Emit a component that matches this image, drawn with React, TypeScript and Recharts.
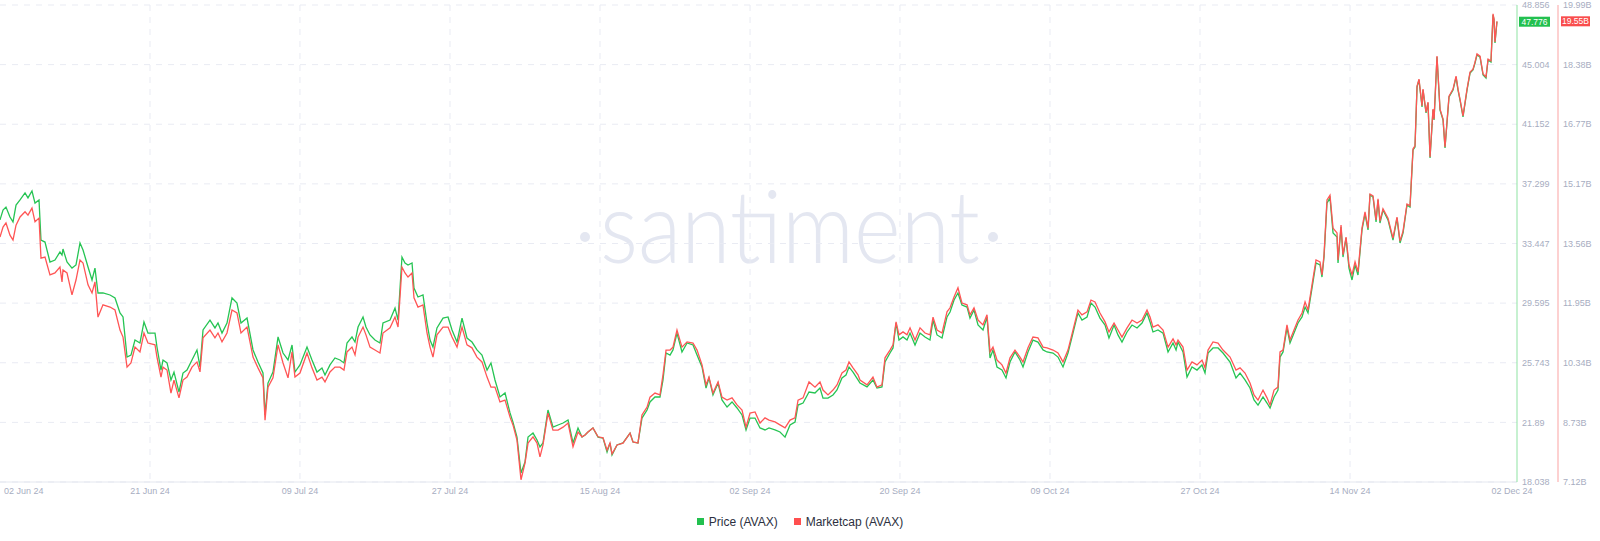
import React from "react";
import { LineChart, Line, XAxis, YAxis, CartesianGrid, ReferenceLine } from "recharts";

// days since 02 Jun 2024 00:00
const days = [
  0, 0.37, 0.73, 1.22, 1.59, 1.96, 2.45, 3.06, 3.42, 3.91,
  4.28, 4.77, 5.01, 5.5, 6.11, 6.72, 7.33, 7.58, 7.7, 8.19,
  8.8, 9.29, 9.78, 10.15, 10.76, 11.25, 11.61, 11.98, 12.59, 13.45,
  14.06, 14.67, 15.04, 15.53, 16.01, 16.5, 17.11, 17.6, 18.09, 18.95,
  19.19, 19.68, 19.93, 20.42, 20.9, 21.27, 21.88, 22.37, 22.86, 23.47,
  24.08, 24.45, 24.82, 25.67, 26.28, 26.65, 27.14, 27.75, 28.36, 28.97,
  29.46, 30.2, 30.93, 31.54, 32.15, 32.4, 32.76, 33.37, 33.99, 34.6,
  35.21, 35.7, 36.06, 36.67, 37.53, 38.14, 38.75, 39.36, 39.73, 40.34,
  40.95, 41.56, 42.05, 42.42, 43.03, 43.4, 43.77, 44.38, 44.74, 45.23,
  45.84, 46.45, 46.82, 47.68, 48.29, 48.66, 49.14, 49.51, 49.88, 50.37,
  50.61, 51.1, 51.71, 52.2, 52.57, 52.93, 53.42, 54.16, 54.77, 55.26,
  55.87, 56.48, 57.09, 57.7, 58.31, 58.92, 59.54, 60.02, 60.51, 61.12,
  61.74, 62.35, 62.71, 63.2, 63.69, 64.18, 64.55, 65.16, 65.65, 66.01,
  66.38, 66.99, 67.6, 68.22, 68.83, 69.44, 70.05, 70.66, 71.15, 71.52,
  71.88, 72.49, 73.11, 73.72, 74.21, 74.57, 74.82, 75.43, 76.16, 77.02,
  77.38, 77.99, 78.48, 79.1, 79.46, 80.07, 80.68, 81.05, 81.42, 81.91,
  82.27, 82.76, 83.37, 83.99, 84.72, 85.21, 85.82, 86.31, 86.67, 87.16,
  87.78, 88.26, 88.88, 89.49, 90.1, 90.71, 91.2, 91.69, 92.3, 92.91,
  93.52, 94.01, 94.74, 95.35, 95.97, 96.58, 97.19, 97.56, 98.17, 98.9,
  99.63, 100.24, 100.61, 101.22, 101.83, 102.32, 102.93, 103.42, 103.79, 104.28,
  104.89, 105.13, 105.99, 106.72, 107.21, 107.82, 108.19, 108.8, 109.17, 109.54,
  109.9, 110.39, 110.88, 111.25, 111.86, 112.47, 113.08, 113.69, 114.06, 114.55,
  115.16, 115.77, 116.14, 116.63, 117.11, 117.6, 118.22, 118.58, 119.07, 119.56,
  120.17, 120.66, 121.03, 121.39, 121.88, 122.49, 122.98, 123.47, 124.08, 124.69,
  125.06, 125.67, 126.28, 126.89, 127.51, 127.99, 128.73, 129.34, 129.95, 130.56,
  131.17, 131.78, 132.27, 132.89, 133.37, 133.86, 134.47, 135.09, 135.57, 136.19,
  136.67, 137.16, 137.78, 138.39, 139.0, 139.61, 140.22, 140.59, 140.95, 141.56,
  142.18, 142.79, 143.4, 143.77, 144.01, 144.62, 145.11, 145.72, 146.33, 146.94,
  147.31, 147.68, 148.29, 148.9, 149.51, 150.37, 151.1, 151.59, 152.2, 152.81,
  153.3, 153.79, 154.4, 154.89, 155.26, 155.75, 156.23, 156.48, 156.85, 157.33,
  157.7, 158.19, 158.68, 159.17, 159.54, 159.9, 160.39, 160.88, 161.37, 161.61,
  161.86, 162.22, 162.59, 162.96, 163.45, 163.57, 163.94, 164.18, 164.55, 164.91,
  165.28, 165.65, 166.01, 166.5, 166.87, 167.24, 167.48, 167.85, 168.22, 168.46,
  168.7, 169.07, 169.68, 170.29, 170.78, 171.15, 171.52, 172.0, 172.37, 172.74,
  172.98, 173.23, 173.47, 173.84, 173.96, 174.33, 174.57, 174.82, 175.18, 175.31,
  175.67, 176.04, 176.41, 176.65, 176.9, 177.14, 177.63, 178.0, 178.24, 178.48,
  178.85, 179.34, 179.71, 180.07, 180.32, 180.56, 180.93, 181.3, 181.66, 181.91,
  182.27, 182.52, 182.64, 182.76, 183.0,
];

// Price (AVAX), USD
const price = [
  34.97, 35.61, 35.8, 35.16, 34.84, 35.93, 36.26, 36.71, 36.39, 36.84,
  36.06, 36.26, 33.67, 33.54, 32.25, 32.38, 32.9, 32.7, 33.09, 32.25,
  31.86, 32.06, 33.48, 33.03, 31.93, 31.09, 31.86, 30.25, 30.25, 30.12,
  29.93, 28.96, 28.7, 26.11, 26.24, 27.21, 27.02, 28.38, 27.66, 27.66,
  26.76, 25.27, 25.92, 25.73, 24.63, 25.14, 23.85, 25.08, 25.27, 25.92,
  26.57, 25.47, 27.86, 28.5, 27.99, 28.31, 27.66, 28.31, 29.93, 29.6,
  28.31, 28.63, 26.57, 25.79, 25.08, 22.37, 24.43, 25.14, 27.41, 26.37,
  25.92, 26.89, 25.14, 25.6, 26.76, 25.92, 25.14, 25.4, 24.95, 25.6,
  26.05, 25.92, 25.73, 27.02, 27.41, 27.08, 28.05, 28.7, 28.05, 27.54,
  27.21, 27.02, 28.31, 28.5, 29.28, 28.5, 32.57, 32.19, 32.06, 32.19,
  30.57, 29.99, 30.12, 28.31, 27.21, 26.76, 27.99, 28.63, 28.7, 27.86,
  27.08, 28.63, 27.34, 27.08, 26.57, 26.24, 25.27, 25.73, 24.63, 23.53,
  23.79, 22.5, 21.91, 20.94, 18.62, 19.33, 20.94, 21.2, 20.75, 20.3,
  20.56, 22.69, 21.59, 21.72, 21.85, 22.04, 20.56, 21.53, 20.94, 21.07,
  21.27, 21.53, 20.94, 20.88, 19.98, 20.56, 19.78, 20.43, 20.56, 21.2,
  20.62, 20.56, 22.17, 22.69, 23.21, 23.53, 23.53, 24.63, 26.37, 26.24,
  26.57, 27.66, 26.44, 27.02, 26.89, 26.24, 25.47, 24.11, 24.76, 23.66,
  24.43, 23.34, 22.88, 23.21, 22.82, 22.37, 21.4, 22.17, 22.17, 21.53,
  21.4, 21.53, 21.4, 21.27, 20.94, 21.72, 21.91, 23.01, 23.14, 23.85,
  23.79, 24.11, 23.46, 23.46, 23.66, 23.98, 24.76, 24.95, 25.47, 25.14,
  24.63, 24.43, 24.18, 24.63, 24.11, 24.18, 25.79, 26.37, 26.7, 28.31,
  27.21, 27.41, 27.21, 27.66, 26.89, 27.66, 27.41, 27.21, 28.5, 27.54,
  27.34, 28.7, 29.02, 29.8, 30.25, 29.47, 29.34, 28.63, 29.15, 28.18,
  27.86, 28.7, 26.05, 26.57, 25.47, 25.27, 24.76, 25.79, 26.44, 25.92,
  25.47, 26.44, 27.21, 27.08, 26.57, 26.44, 26.37, 26.11, 25.47, 26.37,
  27.66, 28.96, 28.5, 28.7, 29.6, 29.34, 28.63, 28.18, 27.34, 28.18,
  27.54, 27.08, 27.73, 28.18, 27.99, 28.31, 28.96, 28.38, 27.73, 27.86,
  27.66, 26.44, 27.02, 26.57, 27.08, 26.44, 24.82, 25.47, 25.27, 25.6,
  25.08, 26.37, 26.7, 26.7, 26.37, 25.79, 24.76, 25.08, 24.63, 24.11,
  23.34, 23.01, 23.53, 23.14, 22.82, 23.53, 23.98, 26.11, 26.44, 27.99,
  27.02, 27.66, 28.31, 28.7, 29.34, 28.96, 30.57, 32.19, 32.06, 31.28,
  32.57, 36.06, 36.39, 34.13, 33.87, 32.19, 34.51, 32.57, 33.8, 31.86,
  31.09, 32.06, 31.41, 34.32, 35.35, 34.32, 36.58, 36.45, 34.84, 36.26,
  34.77, 35.61, 34.97, 33.67, 35.09, 33.48, 34.13, 35.93, 35.8, 39.49,
  39.68, 43.56, 44.01, 42.27, 43.36, 41.88, 42.52, 38.97, 42.07, 41.43,
  45.5, 42.07, 41.43, 39.62, 41.3, 42.91, 43.36, 44.2, 43.36, 42.72,
  41.62, 43.36, 44.46, 44.66, 45.11, 45.63, 45.5, 44.33, 44.14, 45.3,
  45.17, 48.21, 47.89, 46.4, 47.776,
];

// Marketcap (AVAX), billions USD
const mcap = [
  13.73, 14.0, 14.11, 13.78, 13.65, 14.05, 14.27, 14.41, 14.32, 14.51,
  14.14, 14.24, 13.16, 13.19, 12.71, 12.76, 12.92, 12.52, 12.84, 12.76,
  12.17, 12.57, 13.11, 13.03, 12.44, 12.22, 12.52, 11.57, 11.9, 11.84,
  11.76, 11.22, 11.03, 10.22, 10.33, 10.76, 10.63, 11.14, 10.87, 10.82,
  10.49, 9.95, 10.22, 10.14, 9.52, 9.87, 9.39, 9.87, 9.95, 10.22,
  10.36, 10.09, 11.01, 11.22, 11.01, 11.14, 10.9, 11.14, 11.76, 11.68,
  11.14, 11.3, 10.49, 10.2, 9.93, 8.79, 9.68, 9.93, 10.82, 10.33,
  9.93, 10.63, 9.95, 10.06, 10.6, 10.2, 9.87, 9.95, 9.82, 10.09,
  10.22, 10.22, 10.14, 10.63, 10.76, 10.55, 11.03, 11.3, 11.09, 10.76,
  10.68, 10.6, 11.14, 11.28, 11.57, 11.3, 12.92, 12.76, 12.65, 12.76,
  12.09, 11.84, 11.9, 11.14, 10.76, 10.49, 11.09, 11.3, 11.3, 11.03,
  10.76, 11.3, 10.82, 10.74, 10.49, 10.36, 9.95, 9.68, 9.68, 9.28,
  9.33, 8.87, 8.66, 8.25, 7.18, 7.63, 8.17, 8.34, 8.17, 7.8,
  8.12, 8.98, 8.52, 8.52, 8.6, 8.71, 8.07, 8.47, 8.34, 8.39,
  8.47, 8.58, 8.34, 8.31, 7.98, 8.17, 7.88, 8.12, 8.17, 8.44,
  8.2, 8.17, 8.93, 9.14, 9.41, 9.52, 9.47, 10.01, 10.68, 10.68,
  10.76, 11.22, 10.76, 10.9, 10.87, 10.68, 10.28, 9.74, 9.95, 9.52,
  9.82, 9.41, 9.33, 9.39, 9.2, 9.06, 8.6, 8.98, 9.01, 8.71,
  8.85, 8.79, 8.74, 8.66, 8.58, 8.79, 8.85, 9.33, 9.39, 9.82,
  9.68, 9.82, 9.6, 9.47, 9.6, 9.74, 10.06, 10.14, 10.36, 10.2,
  10.01, 9.87, 9.74, 9.95, 9.68, 9.74, 10.47, 10.68, 10.82, 11.44,
  11.09, 11.17, 11.09, 11.28, 10.95, 11.28, 11.14, 11.09, 11.57, 11.22,
  11.14, 11.71, 11.82, 12.11, 12.36, 11.95, 11.9, 11.63, 11.82, 11.49,
  11.36, 11.63, 10.63, 10.76, 10.41, 10.28, 10.06, 10.47, 10.68, 10.49,
  10.36, 10.74, 11.03, 11.01, 10.76, 10.74, 10.68, 10.6, 10.36, 10.68,
  11.22, 11.76, 11.63, 11.71, 12.03, 11.98, 11.68, 11.44, 11.17, 11.41,
  11.22, 11.03, 11.28, 11.49, 11.41, 11.49, 11.76, 11.57, 11.3, 11.36,
  11.22, 10.76, 10.98, 10.82, 10.95, 10.76, 10.14, 10.36, 10.28, 10.41,
  10.2, 10.68, 10.9, 10.87, 10.68, 10.49, 10.14, 10.2, 10.06, 9.79,
  9.47, 9.33, 9.6, 9.39, 9.2, 9.6, 9.68, 10.63, 10.68, 11.36,
  10.95, 11.22, 11.49, 11.68, 11.98, 11.76, 12.44, 13.11, 13.06, 12.71,
  13.25, 14.73, 14.86, 13.97, 13.84, 13.11, 14.05, 13.25, 13.73, 12.98,
  12.71, 13.06, 12.79, 13.97, 14.41, 13.97, 14.89, 14.84, 14.19, 14.76,
  14.16, 14.49, 14.24, 13.7, 14.27, 13.62, 13.89, 14.62, 14.57, 16.11,
  16.19, 17.8, 17.99, 17.27, 17.72, 17.1, 17.37, 15.89, 17.18, 16.91,
  18.61, 17.18, 16.91, 16.16, 16.86, 17.53, 17.72, 18.07, 17.72, 17.45,
  17.0, 17.72, 18.18, 18.26, 18.45, 18.67, 18.61, 18.13, 18.05, 18.53,
  18.48, 19.75, 19.61, 18.99, 19.55,
];

const xTickDays = [0, 18.34, 36.67, 55.01, 73.35, 91.69, 110.02, 128.36, 146.7, 165.04, 184.84];
const xTickLabels = [
  "02 Jun 24", "21 Jun 24", "09 Jul 24", "27 Jul 24", "15 Aug 24", "02 Sep 24",
  "20 Sep 24", "09 Oct 24", "27 Oct 24", "14 Nov 24", "02 Dec 24",
];
const priceTicks = [18.038, 21.89, 25.743, 29.595, 33.447, 37.299, 41.152, 45.004, 48.856];
const priceTickLabels = ["18.038", "21.89", "25.743", "29.595", "33.447", "37.299", "41.152", "45.004", "48.856"];
const mcapTicks = [7.12, 8.729, 10.338, 11.946, 13.555, 15.164, 16.773, 18.381, 19.99];
const mcapTickLabels = ["7.12B", "8.73B", "10.34B", "11.95B", "13.56B", "15.17B", "16.77B", "18.38B", "19.99B"];

const PRICE_AXIS = 0;
const MCAP_AXIS = 1;
const GREEN = "#26c453";
const RED = "#ff5555";
const TICK_COLOR = "#a7adc1";
const FONT = "'Liberation Sans', Arial, sans-serif";

const data = days.map((d, i) => ({ day: d, price: price[i], mcap: mcap[i] }));
const lastPrice = price[price.length - 1];
const lastMcap = mcap[mcap.length - 1];

const XTick = (props: any) => {
  const { x, y, payload } = props;
  const i = xTickDays.indexOf(payload.value);
  const label = i >= 0 ? xTickLabels[i] : "";
  return (
    <text
      x={i === 0 ? x + 4 : x}
      y={y}
      dy="0.71em"
      textAnchor={i === 0 ? "start" : "middle"}
      fill={TICK_COLOR}
      fontSize={9}
      fontFamily={FONT}
    >
      {label}
    </text>
  );
};

const makeBadge = (text: string, color: string, dx: number, w: number) => (props: any) => {
  const vb = props.viewBox || {};
  const bx = (vb.x || 0) + (vb.width || 0) + dx;
  const by = (vb.y || 0) - 5;
  return (
    <g>
      <rect x={bx} y={by} width={w} height={10} fill={color} />
      <text
        x={bx + w / 2}
        y={by + 5}
        dy="0.35em"
        textAnchor="middle"
        fill="#ffffff"
        fontSize={8.5}
        fontFamily={FONT}
      >
        {text}
      </text>
    </g>
  );
};

export default function App() {
  return (
    <div style={{ position: "relative", width: 1600, height: 541, background: "#fff", overflow: "hidden" }}>
      <style>{"body{margin:0;}"}</style>
      <svg
        width={1600}
        height={541}
        style={{ position: "absolute", left: 0, top: 0, zIndex: 0 }}
      >
        <circle cx={585} cy={237} r={5} fill="#e4e7f1" />
        <text
          x={600}
          y={263}
          fontSize={100}
          textLength={380}
          lengthAdjust="spacingAndGlyphs"
          fill="#e4e7f1"
          fontFamily="Lato, 'Open Sans', sans-serif"
          fontWeight={300}
        >
          santiment
        </text>
        <circle cx={993} cy={237} r={5} fill="#e4e7f1" />
      </svg>
      <div style={{ position: "absolute", left: 0, top: 0, zIndex: 1 }}>
        <LineChart width={1600} height={541} data={data} margin={{ top: 5, right: 0, bottom: 39, left: 0 }}>
          <CartesianGrid
            yAxisId={PRICE_AXIS}
            stroke="#e9ebf3"
            strokeDasharray="6 6"
            verticalValues={xTickDays.slice(1, -1)}
            horizontalValues={priceTicks}
          />
          <XAxis
            dataKey="day"
            type="number"
            domain={[0, 185.45]}
            allowDataOverflow
            ticks={xTickDays}
            interval={0}
            tick={<XTick />}
            tickLine={false}
            tickSize={0}
            tickMargin={6}
            axisLine={{ stroke: "#e4e7ef" }}
            height={20}
          />
          <YAxis
            yAxisId={PRICE_AXIS}
            orientation="right"
            domain={[priceTicks[0], priceTicks[priceTicks.length - 1]]}
            ticks={priceTicks}
            interval={0}
            tickFormatter={(v: number, i: number) => priceTickLabels[i] ?? String(v)}
            tick={{ fill: TICK_COLOR, fontSize: 9, fontFamily: FONT }}
            tickLine={false}
            tickSize={0}
            tickMargin={5}
            axisLine={{ stroke: "#8fe3a3" }}
            width={41}
          />
          <YAxis
            yAxisId={MCAP_AXIS}
            orientation="right"
            domain={[mcapTicks[0], mcapTicks[mcapTicks.length - 1]]}
            ticks={mcapTicks}
            interval={0}
            tickFormatter={(v: number, i: number) => mcapTickLabels[i] ?? String(v)}
            tick={{ fill: TICK_COLOR, fontSize: 9, fontFamily: FONT }}
            tickLine={false}
            tickSize={0}
            tickMargin={5}
            axisLine={{ stroke: "#fba3a3" }}
            width={42}
          />
          <Line
            yAxisId={PRICE_AXIS}
            type="linear"
            dataKey="price"
            stroke={GREEN}
            strokeWidth={1.3}
            dot={false}
            isAnimationActive={false}
          />
          <Line
            yAxisId={MCAP_AXIS}
            type="linear"
            dataKey="mcap"
            stroke={RED}
            strokeWidth={1.3}
            dot={false}
            isAnimationActive={false}
          />
          <ReferenceLine
            yAxisId={PRICE_AXIS}
            y={lastPrice}
            stroke="none"
            label={makeBadge(String(lastPrice), "#23c050", 2, 31)}
          />
          <ReferenceLine
            yAxisId={MCAP_AXIS}
            y={lastMcap}
            stroke="none"
            label={makeBadge(lastMcap.toFixed(2) + "B", "#f94d4d", 44, 29)}
          />
        </LineChart>
      </div>
      <div
        style={{
          position: "absolute",
          left: 0,
          top: 502,
          width: 1600,
          height: 39,
          display: "flex",
          alignItems: "center",
          justifyContent: "center",
          fontFamily: FONT,
          fontSize: 12,
          color: "#2c3040",
          zIndex: 2,
        }}
      >
        <span style={{ display: "inline-block", width: 7, height: 7, background: "#22c04f", marginRight: 5 }} />
        <span>Price (AVAX)</span>
        <span style={{ display: "inline-block", width: 7, height: 7, background: "#ff4f4f", marginLeft: 16, marginRight: 5 }} />
        <span>Marketcap (AVAX)</span>
      </div>
    </div>
  );
}
